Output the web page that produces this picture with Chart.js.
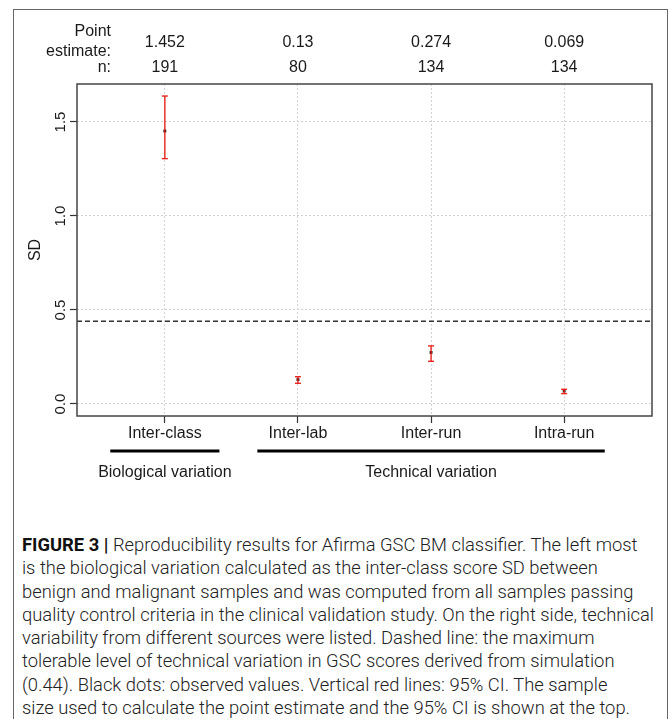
<!DOCTYPE html>
<html>
<head>
<meta charset="utf-8">
<title>Reproducibility results</title>
<script src="https://cdn.jsdelivr.net/npm/chart.js@4.4.0/dist/chart.umd.min.js"></script>
<style>
  html, body { margin: 0; padding: 0; background: #fff; }
  body { width: 669px; height: 719px; position: relative; overflow: hidden; }
  #frame { position: absolute; left: 13px; top: 9px; width: 655px; height: 730px;
           border: 1.5px solid #666; border-bottom: none; box-sizing: border-box; }
  #wrap { position: absolute; left: 0; top: 0; width: 669px; height: 500px; }
  #caption { position: absolute; left: 22px; top: 533px; color: #222;
             font-family: Roboto, "Liberation Sans", sans-serif; font-weight: 300; font-size: 18px; }
  #caption div { white-space: nowrap; line-height: 23.3px; }
  #caption b { font-weight: 700; color: #111; }
</style>
</head>
<body>
<div id="frame"></div>
<div id="wrap"><canvas id="chart" width="669" height="500"></canvas></div>
<div id="caption">
  <div><b>FIGURE 3 |</b> Reproducibility results for Afirma GSC BM classifier. The left most</div>
  <div>is the biological variation calculated as the inter-class score SD between</div>
  <div>benign and malignant samples and was computed from all samples passing</div>
  <div id="longest">quality control criteria in the clinical validation study. On the right side, technical</div>
  <div>variability from different sources were listed. Dashed line: the maximum</div>
  <div>tolerable level of technical variation in GSC scores derived from simulation</div>
  <div>(0.44). Black dots: observed values. Vertical red lines: 95% CI. The sample</div>
  <div>size used to calculate the point estimate and the 95% CI is shown at the top.</div>
</div>
<script>
// values
const categories = ["Inter-class", "Inter-lab", "Inter-run", "Intra-run"];
const pointEstimates = [1.452, 0.13, 0.274, 0.069];
const sampleSizes = [191, 80, 134, 134];
const ciLower = [1.305, 0.11, 0.227, 0.055];
const ciUpper = [1.638, 0.145, 0.309, 0.078];
const yTicks = [0, 0.5, 1.0, 1.5];
const tolerance = 0.44;
const groupLabels = ["Biological variation", "Technical variation"];
const groupFirst = [0, 1];
const groupLast = [0, 3];

const xMin = 0.34, xMax = 4.66;
const font = "\"Liberation Sans\", Arial, sans-serif";
const ink = "#1a1a1a";
const red = "#e8261f";

// fit caption width to the reference
const longest = document.getElementById("longest");
const cap = document.getElementById("caption");
cap.style.fontSize = (18 * 632 / longest.getBoundingClientRect().width).toFixed(2) + "px";

const ciData = [];
categories.forEach((c, i) => {
  ciData.push({ x: i + 1, y: ciLower[i] });
  ciData.push({ x: i + 1, y: ciUpper[i] });
  ciData.push({ x: i + 1, y: null });
});

const decor = {
  id: "decor",
  afterDraw(chart) {
    const c = chart.ctx;
    const a = chart.chartArea;
    const xs = chart.scales.x;
    const ys = chart.scales.y;
    c.save();

    // plot box
    c.strokeStyle = "#444";
    c.lineWidth = 1.5;
    c.strokeRect(a.left, a.top, a.right - a.left, a.bottom - a.top);

    c.fillStyle = ink;
    c.font = "15px " + font;
    c.textAlign = "center";
    c.textBaseline = "middle";
    yTicks.forEach(v => {
      c.save();
      c.translate(61, ys.getPixelForValue(v));
      c.rotate(-Math.PI / 2);
      c.fillText(v.toFixed(1), 0, 0);
      c.restore();
    });

    c.font = "16px " + font;
    c.save();
    c.translate(36, (a.top + a.bottom) / 2);
    c.rotate(-Math.PI / 2);
    c.fillText("SD", 0, 0);
    c.restore();

    // header rows
    c.textAlign = "right";
    c.fillText("Point", 111, 32);
    c.fillText("estimate:", 111, 52);
    c.fillText("n:", 111, 68);
    c.textAlign = "center";
    categories.forEach((cat, i) => {
      const x = xs.getPixelForValue(i + 1);
      c.fillText(String(pointEstimates[i]), x, 43);
      c.fillText(String(sampleSizes[i]), x, 68);
    });

    // group bars
    const over = [0.41, 0.305];
    groupLabels.forEach((g, k) => {
      const x1 = xs.getPixelForValue(groupFirst[k] + 1 - over[k]);
      const x2 = xs.getPixelForValue(groupLast[k] + 1 + over[k]);
      c.strokeStyle = "#000";
      c.lineWidth = 3;
      c.beginPath();
      c.moveTo(x1, 451);
      c.lineTo(x2, 451);
      c.stroke();
      c.fillText(g, (x1 + x2) / 2, 473);
    });
    c.restore();
  }
};

const gridOpts = {
  color: "#d2d2d2",
  lineWidth: 1,
  drawTicks: true,
  tickLength: 7,
  tickColor: "#333",
  tickWidth: 1.2
};

new Chart(document.getElementById("chart").getContext("2d"), {
  type: "scatter",
  data: {
    datasets: [
      {
        label: "Max tolerable",
        data: [{ x: xMin, y: tolerance }, { x: xMax, y: tolerance }],
        showLine: true,
        borderColor: "#333",
        borderWidth: 1.3,
        borderDash: [5, 3],
        pointRadius: 0
      },
      {
        label: "95% CI",
        data: ciData,
        showLine: true,
        spanGaps: false,
        borderColor: red,
        borderWidth: 1.4,
        pointStyle: "line",
        pointRadius: 3,
        pointBorderColor: red,
        pointBorderWidth: 1.4
      },
      {
        label: "SD",
        data: pointEstimates.map((v, i) => ({ x: i + 1, y: v })),
        pointStyle: "rect",
        pointRadius: 2,
        backgroundColor: "#000",
        borderColor: "#000",
        borderWidth: 0
      }
    ]
  },
  options: {
    responsive: false,
    animation: false,
    events: [],
    layout: { padding: { left: 70, right: 17, top: 84, bottom: 52 } },
    plugins: { legend: { display: false }, tooltip: { enabled: false } },
    scales: {
      x: {
        type: "linear",
        min: xMin,
        max: xMax,
        afterBuildTicks: s => { s.ticks = categories.map((c, i) => ({ value: i + 1 })); },
        afterFit: s => { s.height = 32; },
        grid: gridOpts,
        border: { display: false, dash: [2, 2] },
        ticks: {
          callback: v => categories[v - 1],
          font: { family: font, size: 16 },
          color: ink,
          padding: 1,
          maxRotation: 0,
          autoSkip: false
        }
      },
      y: {
        type: "linear",
        min: -0.064,
        max: 1.702,
        afterBuildTicks: s => { s.ticks = yTicks.map(v => ({ value: v })); },
        afterFit: s => { s.width = 7; },
        grid: gridOpts,
        border: { display: false, dash: [2, 2] },
        ticks: { display: false }
      }
    }
  },
  plugins: [decor]
});
</script>
</body>
</html>
